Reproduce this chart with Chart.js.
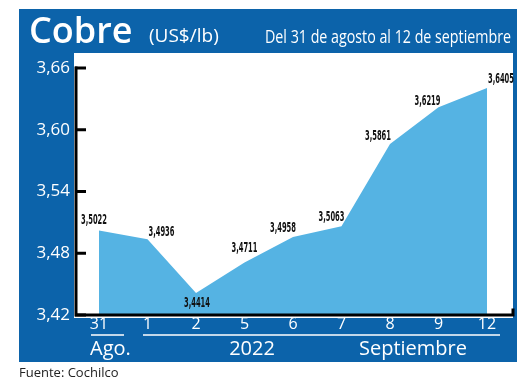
<!DOCTYPE html>
<html><head><meta charset="utf-8">
<script src="https://cdn.jsdelivr.net/npm/chart.js@4"></script>
<style>html,body{margin:0;padding:0;background:#fff}canvas{display:block}</style>
</head><body>
<canvas id="c" width="520" height="383"></canvas>
<script>
const categories = ['31','1','2','5','6','7','8','9','12'];
const copperPrice = [3.5022, 3.4936, 3.4414, 3.4711, 3.4958, 3.5063, 3.5861, 3.6219, 3.6405];
const yTickValues = [3.42, 3.48, 3.54, 3.60, 3.66];
const valueLabels = ['3,5022','3,4936','3,4414','3,4711','3,4958','3,5063','3,5861','3,6219','3,6405'];
const titleMain = 'Cobre';
const titleUnit = '(US$/lb)';
const titleRange = 'Del 31 de agosto al 12 de septiembre';
const groupLabels = ['Ago.', '2022', 'Septiembre'];
const sourceText = 'Fuente: Cochilco';

const BLUE = '#0c63aa';
const FILL = '#55b3e3';
// label offsets (style only): [dx, dy] relative to the point
const labelOffsets = [[-5,-10],[14,-7],[1,10],[0,-14],[-10,-9],[-10,-9],[-12,-8],[-11,-6],[14,-9]];

const decor = {
  id: 'decor',
  beforeDraw(chart) {
    const ctx = chart.ctx;
    ctx.save();
    ctx.fillStyle = '#fff';
    ctx.fillRect(0, 0, 520, 383);
    ctx.fillStyle = BLUE;
    ctx.fillRect(19, 9, 498, 353);
    ctx.fillStyle = '#fff';
    ctx.fillRect(74, 53, 439, 265);
    ctx.restore();
  },
  afterDraw(chart) {
    const ctx = chart.ctx;
    const ys = chart.scales.y;
    const yTop = ys.getPixelForValue(yTickValues[yTickValues.length-1]);
    const yBot = ys.getPixelForValue(yTickValues[0]);
    ctx.save();
    // axis lines
    ctx.strokeStyle = '#000000';
    ctx.lineWidth = 3;
    ctx.lineCap = 'square';
    ctx.beginPath();
    ctx.moveTo(76, yTop);
    ctx.lineTo(76, yBot);
    ctx.lineTo(513, yBot);
    ctx.lineTo(513, yBot - 5);
    ctx.stroke();
    ctx.lineWidth = 3;
    ctx.lineCap = 'butt';
    for (const v of yTickValues) {
      const p = ys.getPixelForValue(v);
      ctx.beginPath(); ctx.moveTo(75, p); ctx.lineTo(86, p); ctx.stroke();
    }
    // value labels
    ctx.fillStyle = '#111';
    ctx.font = 'bold 14px "Liberation Sans Narrow", "DejaVu Sans Condensed", sans-serif';
    ctx.textAlign = 'center';
    ctx.textBaseline = 'middle';
    const meta = chart.getDatasetMeta(0);
    meta.data.forEach((pt, i) => {
      const o = labelOffsets[i];
      ctx.fillText(valueLabels[i], pt.x + o[0], pt.y + o[1], 26);
    });
    // titles
    ctx.fillStyle = '#fff';
    ctx.textBaseline = 'alphabetic';
    ctx.textAlign = 'left';
    ctx.font = '600 36px "Open Sans", sans-serif';
    ctx.fillText(titleMain, 29, 43, 112);
    ctx.font = '19px "Open Sans", sans-serif';
    ctx.fillText(titleUnit, 149, 42, 70);
    ctx.font = '18px "Open Sans", sans-serif';
    ctx.fillText(titleRange, 265, 43, 246);
    // underlines
    ctx.strokeStyle = '#fff';
    ctx.lineWidth = 1.5;
    ctx.beginPath();
    ctx.moveTo(91, 335); ctx.lineTo(124, 335);
    ctx.moveTo(143, 335); ctx.lineTo(500, 335);
    ctx.stroke();
    ctx.font = '20px "Open Sans", sans-serif';
    ctx.textAlign = 'left';
    ctx.fillText(groupLabels[0], 90, 355);
    ctx.textAlign = 'center';
    ctx.fillText(groupLabels[1], 252, 355);
    ctx.fillText(groupLabels[2], 413, 355);
    ctx.fillStyle = '#222';
    ctx.textAlign = 'left';
    ctx.font = '13px "Open Sans", sans-serif';
    ctx.fillText(sourceText, 19, 377);
    ctx.restore();
  }
};

new Chart(document.getElementById('c'), {
  type: 'line',
  data: {
    labels: categories,
    datasets: [{
      data: copperPrice,
      fill: 'start',
      backgroundColor: FILL,
      borderWidth: 0,
      borderColor: FILL,
      pointRadius: 0,
      tension: 0
    }]
  },
  options: {
    responsive: false,
    animation: false,
    devicePixelRatio: 1,
    layout: { padding: { top: 68, right: 33, left: 0, bottom: 0 } },
    plugins: { legend: { display: false }, tooltip: { enabled: false }, title: { display: false } },
    scales: {
      x: {
        type: 'category',
        offset: false,
        grid: { display: false, drawTicks: false },
        border: { display: false },
        ticks: { color: '#fff', font: { family: '"Open Sans", sans-serif', size: 16 }, padding: 0, maxRotation: 0, autoSkip: false },
        afterFit(s) { s.height = 68; }
      },
      y: {
        min: yTickValues[0],
        max: yTickValues[yTickValues.length-1],
        grid: { display: false, drawTicks: false },
        border: { display: false },
        afterBuildTicks(s) { s.ticks = yTickValues.map(v => ({ value: v })); },
        ticks: {
          color: '#fff',
          padding: 29,
          font: { family: '"Open Sans", sans-serif', size: 17 },
          callback: v => Number(v).toFixed(2).replace('.', ',')
        },
        afterFit(s) { s.width = 99; }
      }
    }
  },
  plugins: [decor]
});
</script>
</body></html>
